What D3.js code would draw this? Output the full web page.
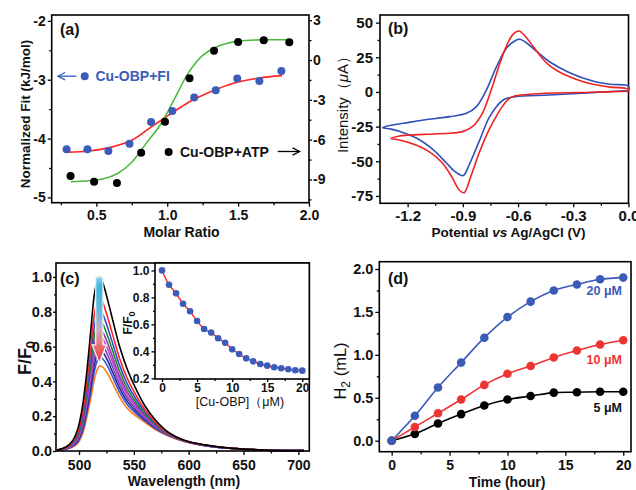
<!DOCTYPE html>
<html><head><meta charset="utf-8">
<script src="https://cdn.jsdelivr.net/npm/d3@7"></script>
<style>
body{margin:0;background:#fff;}
svg text{font-family:"Liberation Sans",Arial,sans-serif;}
</style></head><body>
<svg id="chart" width="636" height="490"></svg>
<script>
// ================= DATA =================
// (a) ITC
const molarFI   = [0.29, 0.437, 0.585, 0.734, 0.886, 1.036, 1.19, 1.342, 1.494, 1.65, 1.805];
const fitFI     = [-4.18, -4.18, -4.21, -4.09, -3.72, -3.53, -3.30, -3.18, -2.98, -3.02, -2.85];
const molarATP  = [0.318, 0.484, 0.645, 0.816, 0.984, 1.157, 1.330, 1.50, 1.681, 1.861];
const heatATP   = [-8.74, -9.17, -9.27, -6.98, -4.65, -1.38, 0.70, 1.36, 1.48, 1.33];
const fitRedX   = [0.29, 0.45, 0.6, 0.75, 0.9, 1.0, 1.1, 1.2, 1.35, 1.5, 1.65, 1.81];
const fitRedY   = [-4.23, -4.21, -4.15, -4.03, -3.78, -3.62, -3.46, -3.32, -3.16, -3.04, -2.97, -2.93];
const fitGreenX = [0.32, 0.45, 0.55, 0.65, 0.75, 0.85, 0.95, 1.05, 1.15, 1.25, 1.35, 1.5, 1.7, 1.87];
const fitGreenY = [-9.17, -9.1, -8.95, -8.55, -7.7, -6.3, -4.9, -2.95, -0.95, 0.35, 1.0, 1.42, 1.52, 1.52];
const ticksAL = [-2, -3, -4, -5];
const ticksAR = [3, 0, -3, -6, -9];
const ticksAX = [0.5, 1.0, 1.5, 2.0];
const labelFI = "Cu-OBP+FI";
const labelATP = "Cu-OBP+ATP";

// (b) CV : [potential V, current uA], lower branch then upper branch
const cvRed = [[0.0,0.5],[-0.2,-0.2],[-0.4,-0.8],[-0.55,-1.8],[-0.614,-2.8],[-0.65,-5],[-0.686,-10.6],[-0.72,-18],[-0.758,-27.4],[-0.812,-44.2],[-0.857,-61],[-0.893,-72.6],[-0.92,-70.7],[-0.956,-62.2],[-1.01,-51.4],[-1.083,-43],[-1.155,-38.2],[-1.245,-34.6],[-1.29,-33.6],
  [-1.245,-31.7],[-1.2,-31.2],[-1.1,-30.5],[-0.978,-29.8],[-0.902,-28.6],[-0.848,-25],[-0.794,-15.4],[-0.74,3.8],[-0.686,25.5],[-0.631,41],[-0.595,44],[-0.56,40],[-0.519,33],[-0.47,24.5],[-0.429,19],[-0.37,14],[-0.32,11],[-0.25,7.5],[-0.194,5.5],[-0.1,3.5],[0.0,2],[0.0,0.5]];
const cvBlue = [[0.0,1],[-0.2,-0.5],[-0.429,-2.2],[-0.614,-3.4],[-0.681,-5.8],[-0.754,-17.8],[-0.808,-34.6],[-0.862,-51.4],[-0.898,-60.3],[-0.943,-57.4],[-0.988,-51.4],[-1.06,-41.8],[-1.15,-33.4],[-1.24,-28.6],[-1.29,-26.8],[-1.335,-25.7],
  [-1.29,-24],[-1.223,-22.6],[-1.114,-20.2],[-0.97,-17.8],[-0.88,-15.4],[-0.826,-10.6],[-0.772,1.4],[-0.717,18.2],[-0.663,31.5],[-0.609,37.5],[-0.59,38],[-0.555,35.5],[-0.519,31.5],[-0.429,21.8],[-0.32,13.9],[-0.194,7.9],[-0.1,5.5],[0.0,4.3],[0.0,1]];
const ticksBY = [50, 25, 0, -25, -50, -75];
const ticksBX = [-1.2, -0.9, -0.6, -0.3, 0.0];

// (c) fluorescence spectra
const wavelength = [480,488,494,499,503,507,511,514,517,519,522,526,531,537,544,552,560,570,582,596,615,640,670,705];
const spec0 = [0.005,0.023,0.058,0.13,0.25,0.45,0.71,0.90,0.985,1.0,0.96,0.87,0.745,0.60,0.47,0.355,0.26,0.175,0.105,0.062,0.035,0.015,0.006,0.002];
const spec1 = [0.005,0.020,0.050,0.110,0.214,0.389,0.616,0.785,0.865,0.88,0.847,0.770,0.660,0.532,0.417,0.319,0.238,0.163,0.100,0.060,0.034,0.015,0.006,0.002];
const spec2 = [0.005,0.018,0.045,0.098,0.192,0.353,0.561,0.717,0.795,0.81,0.781,0.711,0.611,0.492,0.386,0.297,0.225,0.155,0.098,0.059,0.033,0.015,0.006,0.002];
const spec3 = [0.004,0.017,0.040,0.088,0.174,0.323,0.514,0.660,0.735,0.75,0.725,0.662,0.569,0.458,0.360,0.279,0.213,0.149,0.095,0.059,0.033,0.015,0.006,0.002];
const spec4 = [0.004,0.015,0.037,0.080,0.159,0.297,0.475,0.612,0.685,0.70,0.678,0.620,0.533,0.429,0.338,0.264,0.204,0.144,0.093,0.058,0.032,0.014,0.005,0.002];
const spec5 = [0.004,0.014,0.034,0.073,0.147,0.277,0.443,0.573,0.645,0.66,0.640,0.587,0.505,0.407,0.320,0.252,0.197,0.140,0.092,0.058,0.032,0.014,0.005,0.002];
const spec6 = [0.004,0.013,0.031,0.067,0.135,0.256,0.412,0.535,0.605,0.62,0.602,0.553,0.477,0.384,0.303,0.240,0.189,0.136,0.090,0.057,0.031,0.014,0.005,0.002];
const spec7 = [0.003,0.012,0.028,0.060,0.122,0.236,0.380,0.496,0.565,0.58,0.564,0.520,0.448,0.361,0.285,0.228,0.181,0.131,0.089,0.056,0.031,0.014,0.005,0.002];
const spec8 = [0.003,0.011,0.025,0.053,0.110,0.215,0.349,0.458,0.525,0.54,0.527,0.487,0.420,0.338,0.267,0.215,0.174,0.127,0.087,0.056,0.030,0.014,0.005,0.002];
const spec9 = [0.003,0.010,0.022,0.045,0.095,0.19,0.31,0.41,0.475,0.49,0.48,0.445,0.385,0.31,0.245,0.2,0.165,0.122,0.085,0.055,0.03,0.014,0.005,0.002];
const spectra = [spec0,spec1,spec2,spec3,spec4,spec5,spec6,spec7,spec8,spec9];
const specColors = ['#000000','#ff2626','#2f4fd0','#1e8a2e','#9a34b4','#cc44c4','#7444c4','#22288c','#3656d6','#ff7f1e'];
const ticksCX = [500, 550, 600, 650, 700];
const ticksCY = [0.0, 0.2, 0.4, 0.6, 0.8, 1.0];
// inset
const cuOBP = [0,1,2,3,4,5,6,7,8,9,10,11,12,13,14,15,16,17,18,19,20];
const ratioF = [1.0,0.894,0.83,0.753,0.697,0.625,0.566,0.539,0.497,0.464,0.415,0.38,0.348,0.326,0.306,0.294,0.282,0.275,0.267,0.26,0.257];
const ticksIX = [0, 5, 10, 15, 20];
const ticksIY = [0.2, 0.4, 0.6, 0.8, 1.0];

// (d) H2 evolution
const timeH = [0,2,4,6,8,10,12,14,16,18,20];
const h2_20 = [0,0.29,0.62,0.91,1.20,1.44,1.62,1.75,1.82,1.88,1.90];
const h2_10 = [0,0.16,0.32,0.48,0.65,0.78,0.87,0.97,1.05,1.12,1.17];
const h2_5  = [0,0.08,0.20,0.31,0.41,0.48,0.52,0.56,0.565,0.57,0.57];
const ticksDX = [0,5,10,15,20];
const ticksDY = [0.0,0.5,1.0,1.5,2.0];

// ================= DRAW =================
const svg = d3.select('#chart');
const FONT = '"Liberation Sans",Arial,sans-serif';
const fmt1 = d => d.toFixed(1);
const fmtI = d => String(d);

function drawAxis(type, scale, majors, minors, fmt, tr, o) {
  o = o || {};
  const mk = {left: d3.axisLeft, right: d3.axisRight, bottom: d3.axisBottom}[type];
  const gm = svg.append('g').attr('transform', tr)
    .call(mk(scale).tickValues(minors).tickSize(o.minor || 2.5).tickFormat(''));
  const gM = svg.append('g').attr('transform', tr)
    .call(mk(scale).tickValues(majors).tickSize(o.major || 4).tickPadding(o.pad == null ? 2 : o.pad).tickFormat(fmt));
  [gm, gM].forEach(s => {
    s.select('.domain').remove();
    s.selectAll('line').attr('stroke', '#000').attr('stroke-width', 1.3);
  });
  gM.selectAll('text').attr('font-size', o.fs || 14).attr('font-weight', 'bold')
    .attr('fill', '#111').attr('font-family', FONT);
}
function frame(x0, y0, x1, y1) {
  svg.append('rect').attr('x', x0).attr('y', y0).attr('width', x1 - x0).attr('height', y1 - y0)
    .attr('fill', 'none').attr('stroke', '#000').attr('stroke-width', 1.6);
}
function txt(x, y, s, o) {
  o = o || {};
  return svg.append('text').attr('x', x).attr('y', y).text(s)
    .attr('font-size', o.fs || 14).attr('font-weight', o.fw || 'bold')
    .attr('fill', o.fill || '#111').attr('text-anchor', o.anchor || 'start')
    .attr('font-family', FONT);
}

// ---------- (a) ----------
const A = {x0: 51.7, x1: 309, y0: 15, y1: 202.7};
const xA = d3.scaleLinear().domain([0.185, 2.0]).range([A.x0, A.x1]);
const yAL = d3.scaleLinear().domain([-5.09, -1.90]).range([A.y1, A.y0]);
const yAR = d3.scaleLinear().domain([-10.75, 3.39]).range([A.y1, A.y0]);
drawAxis('left', yAL, ticksAL, [-2.5, -3.5, -4.5], fmtI, `translate(${A.x0},0)`);
drawAxis('right', yAR, ticksAR, [1.5, -1.5, -4.5, -7.5, -10.5], fmtI, `translate(${A.x1},0)`, {major: 3, pad: 1});
drawAxis('bottom', xA, ticksAX, [0.25, 0.75, 1.25, 1.75], fmt1, `translate(0,${A.y1})`, {pad: 3});
frame(A.x0, A.y0, A.x1, A.y1);
const lineRed = d3.line().x(d => xA(d[0])).y(d => yAL(d[1])).curve(d3.curveCatmullRom);
const lineGreen = d3.line().x(d => xA(d[0])).y(d => yAR(d[1])).curve(d3.curveCatmullRom);
svg.append('path').attr('d', lineRed(fitRedX.map((v, i) => [v, fitRedY[i]])))
  .attr('fill', 'none').attr('stroke', '#ff2222').attr('stroke-width', 1.6);
svg.append('path').attr('d', lineGreen(fitGreenX.map((v, i) => [v, fitGreenY[i]])))
  .attr('fill', 'none').attr('stroke', '#4cbb3c').attr('stroke-width', 1.6);
svg.selectAll('.pFI').data(molarFI).enter().append('circle')
  .attr('cx', d => xA(d)).attr('cy', (d, i) => yAL(fitFI[i])).attr('r', 4).attr('fill', '#3b5cb8');
svg.selectAll('.pATP').data(molarATP).enter().append('circle')
  .attr('cx', d => xA(d)).attr('cy', (d, i) => yAR(heatATP[i])).attr('r', 4).attr('fill', '#000');
// annotations
const defs = svg.append('defs');
function arrowMarker(id, color) {
  defs.append('marker').attr('id', id).attr('viewBox', '0 0 10 10').attr('refX', 9).attr('refY', 5)
    .attr('markerWidth', 7).attr('markerHeight', 7).attr('orient', 'auto-start-reverse')
    .append('path').attr('d', 'M1,1 L9,5 L1,9').attr('fill', 'none').attr('stroke', color).attr('stroke-width', 1.4);
}
arrowMarker('arrB', '#3b5cb8');
arrowMarker('arrK', '#000');
const yFI = yAL(-2.94);
svg.append('line').attr('x1', xA(0.36)).attr('x2', xA(0.228)).attr('y1', yFI).attr('y2', yFI)
  .attr('stroke', '#3b5cb8').attr('stroke-width', 1.3).attr('marker-end', 'url(#arrB)');
svg.append('circle').attr('cx', xA(0.418)).attr('cy', yFI).attr('r', 4).attr('fill', '#3b5cb8');
txt(95.5, yFI + 5, labelFI, {fill: '#3b5cb8', fs: 14});
const yATP = yAR(-6.93);
svg.append('circle').attr('cx', xA(1.01)).attr('cy', yATP).attr('r', 4).attr('fill', '#000');
txt(180, yATP + 5, labelATP, {fs: 14});
svg.append('line').attr('x1', xA(1.78)).attr('x2', xA(1.935)).attr('y1', yATP - 0.5).attr('y2', yATP - 0.5)
  .attr('stroke', '#000').attr('stroke-width', 1.3).attr('marker-end', 'url(#arrK)');
txt(60, 35, '(a)', {fs: 16});
txt(181.5, 237, 'Molar Ratio', {anchor: 'middle', fs: 14});
svg.append('text').attr('transform', 'translate(30,114) rotate(-90)').attr('text-anchor', 'middle')
  .attr('font-size', 13.5).attr('font-weight', 'bold').attr('fill', '#111').attr('font-family', FONT)
  .text('Normalized Fit (kJ/mol)');

// ---------- (b) ----------
const B = {x0: 380, x1: 628.5, y0: 15, y1: 203.3};
const xB = d3.scaleLinear().domain([-1.35, 0.0]).range([B.x0, B.x1]);
const yB = d3.scaleLinear().domain([-80.3, 55.5]).range([B.y1, B.y0]);
drawAxis('left', yB, ticksBY, [37.5, 12.5, -12.5, -37.5, -62.5], fmtI, `translate(${B.x0},0)`, {pad: 3, fs: 15});
drawAxis('bottom', xB, ticksBX, [-1.05, -0.75, -0.45, -0.15], fmt1, `translate(0,${B.y1})`, {pad: 3, fs: 15});
frame(B.x0, B.y0, B.x1, B.y1);
const lineB = d3.line().x(d => xB(d[0])).y(d => yB(d[1])).curve(d3.curveCatmullRom);
svg.append('path').attr('d', lineB(cvBlue)).attr('fill', 'none').attr('stroke', '#3050b8').attr('stroke-width', 1.6);
svg.append('path').attr('d', lineB(cvRed)).attr('fill', 'none').attr('stroke', '#ee2222').attr('stroke-width', 1.6);
txt(388, 34, '(b)', {fs: 16});
const tB = svg.append('text').attr('x', 508.5).attr('y', 237).attr('text-anchor', 'middle')
  .attr('font-size', 13.5).attr('font-weight', 'bold').attr('fill', '#111').attr('font-family', FONT);
tB.append('tspan').text('Potential ');
tB.append('tspan').attr('font-style', 'italic').text('vs');
tB.append('tspan').text(' Ag/AgCl (V)');
const tBy = svg.append('text').attr('transform', 'translate(348,101) rotate(-90)').attr('text-anchor', 'middle')
  .attr('font-size', 15).attr('font-weight', 'normal').attr('fill', '#111').attr('font-family', FONT);
tBy.append('tspan').text('Intensity（');
tBy.append('tspan').attr('font-style', 'italic').text('μ');
tBy.append('tspan').text('A）');

// ---------- (c) ----------
const C = {x0: 56, x1: 309.3, y0: 263, y1: 451};
const xC = d3.scaleLinear().domain([479, 710]).range([C.x0, C.x1]);
const yC = d3.scaleLinear().domain([0, 1.08]).range([C.y1, C.y0]);
drawAxis('left', yC, ticksCY, [0.1, 0.3, 0.5, 0.7, 0.9], fmt1, `translate(${C.x0},0)`, {pad: 1, major: 3, minor: 2, fs: 14.5});
drawAxis('bottom', xC, ticksCX, [525, 575, 625, 675], fmtI, `translate(0,${C.y1})`, {pad: 5});
const lineC = d3.line().x((d, i) => xC(wavelength[i])).y(d => yC(d)).curve(d3.curveCatmullRom);
spectra.slice().reverse().forEach((s, k) => {
  const idx = spectra.length - 1 - k;
  svg.append('path').attr('d', lineC(s)).attr('fill', 'none')
    .attr('stroke', specColors[idx]).attr('stroke-width', 1.6);
});
// gradient arrow
const grad = defs.append('linearGradient').attr('id', 'gArr').attr('gradientUnits', 'userSpaceOnUse')
  .attr('x1', 0).attr('x2', 0).attr('y1', yC(1.0)).attr('y2', yC(0.5));
[[0, '#8fd6f0'], [0.1, '#3cb6de'], [0.4, '#62bcdc'], [0.6, '#c8b0bc'], [0.78, '#ec7272'], [1, '#e63a3a']]
  .forEach(s => grad.append('stop').attr('offset', s[0]).attr('stop-color', s[1]));
const ax = xC(518.5), aTop = yC(1.0), aNeck = yC(0.61), aTip = yC(0.505);
svg.append('path')
  .attr('d', `M${ax - 3.6},${aTop} L${ax + 3.6},${aTop} L${ax + 3.6},${aNeck} L${ax + 7.2},${aNeck} L${ax},${aTip} L${ax - 7.2},${aNeck} L${ax - 3.6},${aNeck} Z`)
  .attr('fill', 'url(#gArr)').attr('stroke', '#eef4fa').attr('stroke-width', 1.2);
frame(C.x0, C.y0, C.x1, C.y1);
// inset
const I = {x0: 155, x1: 309.3, y0: 263, y1: 379};
svg.append('rect').attr('x', I.x0).attr('y', I.y0).attr('width', I.x1 - I.x0).attr('height', I.y1 - I.y0).attr('fill', '#fff');
const xI = d3.scaleLinear().domain([-1, 21]).range([I.x0, I.x1]);
const yI = d3.scaleLinear().domain([0.195, 1.055]).range([I.y1, I.y0]);
drawAxis('left', yI, ticksIY, [0.3, 0.5, 0.7, 0.9], fmt1, `translate(${I.x0},0)`, {fs: 12, major: 3.5, minor: 2, pad: 2});
drawAxis('bottom', xI, ticksIX, [2.5, 7.5, 12.5, 17.5], fmtI, `translate(0,${I.y1})`, {fs: 12, major: 3, minor: 2, pad: 1});
frame(I.x0, I.y0, I.x1, I.y1);
const lineI = d3.line().x(d => xI(d)).y((d, i) => yI(ratioF[i])).curve(d3.curveCatmullRom);
svg.append('path').attr('d', lineI(cuOBP)).attr('fill', 'none').attr('stroke', '#ff2222').attr('stroke-width', 1.4);
svg.selectAll('.pI').data(cuOBP).enter().append('circle')
  .attr('cx', d => xI(d)).attr('cy', (d, i) => yI(ratioF[i])).attr('r', 3.3).attr('fill', '#3b5cb8');
txt(240, 405.5, '[Cu-OBP]（μM)', {anchor: 'middle', fs: 12.5, fw: 'normal'});
const tIy = svg.append('text').attr('transform', 'translate(132,323) rotate(-90)').attr('text-anchor', 'middle')
  .attr('font-size', 12).attr('font-weight', 'bold').attr('fill', '#111').attr('font-family', FONT);
tIy.append('tspan').text('F/F');
tIy.append('tspan').attr('font-size', 9).attr('dy', 3).text('0');
txt(60, 284, '(c)', {fs: 16});
txt(184, 486, 'Wavelength (nm)', {anchor: 'middle', fs: 14});
const tCy = svg.append('text').attr('transform', 'translate(31,358) rotate(-90)').attr('text-anchor', 'middle')
  .attr('font-size', 18).attr('font-weight', 'bold').attr('fill', '#111').attr('font-family', FONT);
tCy.append('tspan').text('F/F');
tCy.append('tspan').attr('font-size', 13).attr('dy', 4).text('0');

// ---------- (d) ----------
const D = {x0: 379.3, x1: 631, y0: 261.7, y1: 451.7};
const xD = d3.scaleLinear().domain([-1.07, 20.67]).range([D.x0, D.x1]);
const yD = d3.scaleLinear().domain([-0.128, 2.085]).range([D.y1, D.y0]);
drawAxis('left', yD, ticksDY, [0.25, 0.75, 1.25, 1.75], fmt1, `translate(${D.x0},0)`, {pad: 2, fs: 14.5});
drawAxis('bottom', xD, ticksDX, [2.5, 7.5, 12.5, 17.5], fmtI, `translate(0,${D.y1})`, {pad: 4.5, fs: 14});
frame(D.x0, D.y0, D.x1, D.y1);
const seriesD = [[h2_5, '#000000'], [h2_10, '#ee3333'], [h2_20, '#3a5bb5']];
const lineD = d3.line().x((d, i) => xD(timeH[i])).y(d => yD(d)).curve(d3.curveCatmullRom);
seriesD.forEach(([vals, col]) => {
  svg.append('path').attr('d', lineD(vals)).attr('fill', 'none').attr('stroke', col).attr('stroke-width', 1.6);
  svg.append('g').selectAll('circle').data(vals).enter().append('circle')
    .attr('cx', (d, i) => xD(timeH[i])).attr('cy', d => yD(d)).attr('r', 4.3).attr('fill', col);
});
txt(622, 294.5, '20 μM', {anchor: 'end', fs: 12.5, fill: '#3a5bb5'});
txt(622, 363.5, '10 μM', {anchor: 'end', fs: 12.5, fill: '#ee3333'});
txt(622, 411.5, '5 μM', {anchor: 'end', fs: 12.5, fill: '#111'});
txt(388, 284, '(d)', {fs: 16});
txt(507, 487, 'Time (hour)', {anchor: 'middle', fs: 14});
const tDy = svg.append('text').attr('transform', 'translate(346,371) rotate(-90)').attr('text-anchor', 'middle')
  .attr('font-size', 16.5).attr('font-weight', 'normal').attr('fill', '#111').attr('font-family', FONT);
tDy.append('tspan').text('H');
tDy.append('tspan').attr('font-size', 12).attr('dy', 4).text('2');
tDy.append('tspan').attr('dy', -4).text(' (mL)');
</script>
</body></html>
